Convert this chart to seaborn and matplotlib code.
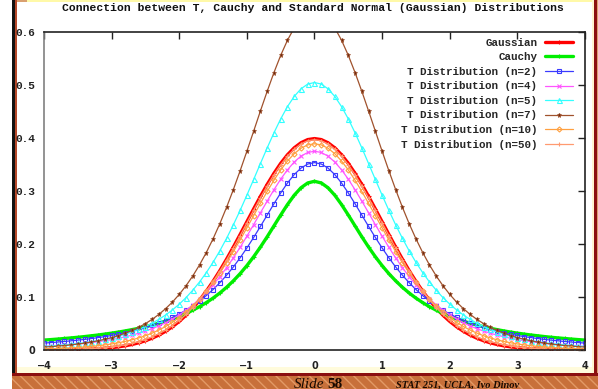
import numpy as np
import pandas as pd
import matplotlib
matplotlib.use("Agg")
import matplotlib.pyplot as plt
import seaborn as sns
from matplotlib.patches import Rectangle

# x grid (step 0.1); every curve is symmetric, values read for x >= 0 and mirrored
x_half = np.round(np.arange(0, 4.01, 0.1), 1)

gaussian = [0.3989, 0.3970, 0.3910, 0.3814, 0.3683, 0.3521, 0.3332, 0.3123, 0.2897, 0.2661,
            0.2420, 0.2179, 0.1942, 0.1714, 0.1497, 0.1295, 0.1109, 0.0940, 0.0790, 0.0656,
            0.0540, 0.0440, 0.0355, 0.0283, 0.0224, 0.0175, 0.0136, 0.0104, 0.0079, 0.0060,
            0.0044, 0.0033, 0.0024, 0.0017, 0.0012, 0.0009, 0.0006, 0.0004, 0.0003, 0.0002,
            0.0001]
cauchy = [0.3183, 0.3152, 0.3061, 0.2920, 0.2744, 0.2546, 0.2341, 0.2136, 0.1941, 0.1759,
          0.1592, 0.1440, 0.1305, 0.1183, 0.1075, 0.0979, 0.0894, 0.0818, 0.0751, 0.0690,
          0.0637, 0.0588, 0.0545, 0.0506, 0.0471, 0.0439, 0.0410, 0.0384, 0.0360, 0.0338,
          0.0318, 0.0300, 0.0283, 0.0268, 0.0253, 0.0240, 0.0228, 0.0217, 0.0206, 0.0196,
          0.0187]
t_n2 = [0.3536, 0.3509, 0.3432, 0.3310, 0.3150, 0.2963, 0.2758, 0.2545, 0.2331, 0.2123,
        0.1925, 0.1739, 0.1567, 0.1411, 0.1269, 0.1141, 0.1027, 0.0925, 0.0834, 0.0753,
        0.0680, 0.0616, 0.0559, 0.0508, 0.0463, 0.0422, 0.0386, 0.0353, 0.0324, 0.0298,
        0.0274, 0.0253, 0.0234, 0.0216, 0.0200, 0.0186, 0.0173, 0.0161, 0.0150, 0.0140,
        0.0131]
t_n4 = [0.3750, 0.3727, 0.3658, 0.3547, 0.3400, 0.3223, 0.3023, 0.2809, 0.2588, 0.2365,
        0.2147, 0.1937, 0.1739, 0.1554, 0.1384, 0.1229, 0.1089, 0.0963, 0.0851, 0.0751,
        0.0663, 0.0585, 0.0516, 0.0456, 0.0403, 0.0357, 0.0316, 0.0280, 0.0249, 0.0221,
        0.0197, 0.0176, 0.0157, 0.0140, 0.0126, 0.0113, 0.0101, 0.0091, 0.0082, 0.0074,
        0.0067]
t_n5 = [0.5047, 0.5017, 0.4928, 0.4784, 0.4592, 0.4360, 0.4097, 0.3813, 0.3517, 0.3217,
        0.2921, 0.2634, 0.2362, 0.2107, 0.1871, 0.1655, 0.1460, 0.1284, 0.1128, 0.0988,
        0.0865, 0.0757, 0.0662, 0.0579, 0.0507, 0.0443, 0.0388, 0.0340, 0.0298, 0.0262,
        0.0230, 0.0202, 0.0178, 0.0157, 0.0139, 0.0123, 0.0109, 0.0097, 0.0086, 0.0076,
        0.0068]
t_n7 = [0.6397, 0.6361, 0.6253, 0.6078, 0.5844, 0.5559, 0.5234, 0.4880, 0.4509, 0.4128,
        0.3750, 0.3381, 0.3027, 0.2693, 0.2383, 0.2098, 0.1839, 0.1606, 0.1397, 0.1212,
        0.1049, 0.0906, 0.0782, 0.0673, 0.0579, 0.0498, 0.0428, 0.0368, 0.0317, 0.0272,
        0.0234, 0.0202, 0.0174, 0.0150, 0.0129, 0.0112, 0.0097, 0.0084, 0.0073, 0.0063,
        0.0055]
t_n10 = [0.3891, 0.3870, 0.3807, 0.3704, 0.3566, 0.3397, 0.3203, 0.2991, 0.2766, 0.2535,
         0.2304, 0.2076, 0.1857, 0.1648, 0.1454, 0.1274, 0.1111, 0.0963, 0.0831, 0.0714,
         0.0611, 0.0522, 0.0444, 0.0377, 0.0319, 0.0269, 0.0227, 0.0192, 0.0161, 0.0136,
         0.0114, 0.0096, 0.0081, 0.0068, 0.0057, 0.0048, 0.0040, 0.0034, 0.0029, 0.0024,
         0.0020]
t_n50 = [0.3969, 0.3949, 0.3889, 0.3792, 0.3659, 0.3495, 0.3306, 0.3096, 0.2870, 0.2635,
         0.2396, 0.2157, 0.1924, 0.1701, 0.1489, 0.1292, 0.1111, 0.0947, 0.0801, 0.0671,
         0.0558, 0.0460, 0.0376, 0.0306, 0.0247, 0.0197, 0.0157, 0.0123, 0.0097, 0.0075,
         0.0058, 0.0045, 0.0034, 0.0026, 0.0020, 0.0015, 0.0011, 0.0008, 0.0006, 0.0005,
         0.0003]

series_names = ["Gaussian", "Cauchy", "T Distribution (n=2)", "T Distribution (n=4)",
                "T Distribution (n=5)", "T Distribution (n=7)", "T Distribution (n=10)",
                "T Distribution (n=50)"]
series_values = [gaussian, cauchy, t_n2, t_n4, t_n5, t_n7, t_n10, t_n50]

x_ticks = [-4, -3, -2, -1, 0, 1, 2, 3, 4]
x_tick_labels = ["\u22124", "\u22123", "\u22122", "\u22121", "0", "1", "2", "3", "4"]
y_ticks = [0, 0.1, 0.2, 0.3, 0.4, 0.5, 0.6]
y_tick_labels = ["0", "0.1", "0.2", "0.3", "0.4", "0.5", "0.6"]

filas = []
for nombre, vals in zip(series_names, series_values):
    vals = np.asarray(vals)
    xs = np.concatenate([-x_half[:0:-1], x_half])
    ys = np.concatenate([vals[:0:-1], vals])
    filas.append(pd.DataFrame({"x": xs, "y": ys, "serie": nombre}))
df = pd.concat(filas, ignore_index=True)

estilos = {
    "Gaussian": dict(color="#ff0000", linewidth=2.4, marker="+", markersize=3),
    "Cauchy": dict(color="#00ee00", linewidth=2.4, marker="+", markersize=3),
    "T Distribution (n=2)": dict(color="#3a3aff", linewidth=0.9, marker="s", markersize=3.4,
                                 fillstyle="none", markeredgewidth=0.8),
    "T Distribution (n=4)": dict(color="#ff55ff", linewidth=0.9, marker="x", markersize=3,
                                 markeredgewidth=0.8),
    "T Distribution (n=5)": dict(color="#33ffff", linewidth=0.9, marker="^", markersize=3.6,
                                 fillstyle="none", markeredgewidth=0.8),
    "T Distribution (n=7)": dict(color="#a0522d", linewidth=0.9, marker="*", markersize=3.6,
                                 markerfacecolor="#6b2a10", markeredgewidth=0.5),
    "T Distribution (n=10)": dict(color="#ffa040", linewidth=0.9, marker="D", markersize=2.6,
                                  fillstyle="none", markeredgewidth=0.8),
    "T Distribution (n=50)": dict(color="#ff9a70", linewidth=0.9, marker="+", markersize=3.5,
                                  markeredgewidth=0.8),
}
for nombre in estilos:
    estilos[nombre].setdefault("markeredgewidth", 0.8)
    estilos[nombre]["markeredgecolor"] = estilos[nombre]["color"]

sns.set_style("white")
plt.rcParams["font.family"] = ["Liberation Mono", "DejaVu Sans"]

W, H = 598, 389
fig = plt.figure(figsize=(W / 100, H / 100), dpi=100)
fig.patch.set_facecolor("white")


def caja(x0, y0, w, h, **kw):
    # rectangulo en pixeles (origen arriba a la izquierda), detras de los ejes
    r = Rectangle((x0 / W, 1 - (y0 + h) / H), w / W, h / H, transform=fig.transFigure,
                  zorder=-5, **kw)
    fig.add_artist(r)


# marco de la diapositiva
caja(12, 0, 2.5, H, facecolor="#111111", edgecolor="none")
caja(14.5, 0, 2, H, facecolor="#b5492a", edgecolor="none")
caja(16.5, 0, 10, 2, facecolor="#d9a070", edgecolor="none")
caja(27, 0, 565, 1.5, facecolor="#fff9a8", edgecolor="none")
caja(592, 0, 6, 16, facecolor="#e2b48a", edgecolor="none")
caja(591.5, 0, 2.5, H, facecolor="#fff6d0", edgecolor="none")
caja(594, 0, 2.5, H, facecolor="#8b1010", edgecolor="none")
caja(596.5, 0, 2, H, facecolor="#d9a070", edgecolor="none")
caja(16.5, 367, 575, 6, facecolor="#fffbdc", edgecolor="none")
caja(12, 373, 586, 3, facecolor="#8b1010", edgecolor="none")
caja(12, 376, 586, 13, facecolor="#c8703a", edgecolor="#e39a66", hatch="\\\\\\", linewidth=0)

ax = fig.add_axes([44 / W, 1 - 350 / H, (585 - 44) / W, (350 - 32) / H])
ax.set_facecolor("white")

for nombre in series_names:
    sub = df[df["serie"] == nombre]
    sns.lineplot(data=sub, x="x", y="y", ax=ax, label=nombre, estimator=None,
                 **estilos[nombre])

ax.set_xlim(-4, 4)
ax.set_ylim(0, 0.6)
ax.set_xlabel("")
ax.set_ylabel("")
ax.set_xticks(x_ticks)
ax.set_xticklabels(x_tick_labels, fontfamily="DejaVu Sans", fontweight="bold", fontsize=7)
ax.set_yticks(y_ticks)
ax.set_yticklabels(y_tick_labels, fontfamily="Liberation Mono", fontweight="bold", fontsize=8)
ax.get_yticklabels()[0].set_fontfamily("DejaVu Sans")
ax.get_yticklabels()[0].set_fontsize(7)
ax.tick_params(direction="in", length=5, width=1, top=True, right=True, colors="#222222")
ax.tick_params(axis="x", pad=8)
ax.tick_params(axis="y", pad=6)
for lado in ["top", "right", "bottom"]:
    ax.spines[lado].set_color("#222222")
    ax.spines[lado].set_linewidth(1.2)
ax.spines["left"].set_color("#808080")
ax.spines["left"].set_linewidth(1.2)

leg = ax.legend(loc="upper right", bbox_to_anchor=(0.977, 0.982), frameon=False,
                markerfirst=False, borderpad=0, borderaxespad=0, handlelength=2.5,
                handletextpad=0.75, labelspacing=0.42,
                prop={"family": "Liberation Mono", "weight": "bold", "size": 7.8})

fig.text(313 / W, 1 - 8 / H,
         "Connection between T, Cauchy and Standard Normal (Gaussian) Distributions",
         ha="center", va="center", fontsize=8.2, fontweight="bold",
         fontfamily="Liberation Mono", color="#111111")

fig.text(324 / W, 1 - 387.5 / H, "Slide", ha="right", va="baseline", fontsize=11,
         fontstyle="italic", fontfamily="Liberation Serif", color="#1a0a00")
fig.text(327 / W, 1 - 387.5 / H, "58", ha="left", va="baseline", fontsize=11,
         fontweight="bold", fontfamily="Liberation Serif", color="#1a0a00")
fig.text(396 / W, 1 - 388 / H, "STAT 251, UCLA, Ivo Dinov", ha="left", va="baseline",
         fontsize=7.5, fontweight="bold", fontstyle="italic", fontfamily="Liberation Serif",
         color="#1a0a00")

fig.savefig("out.png", dpi=100)
